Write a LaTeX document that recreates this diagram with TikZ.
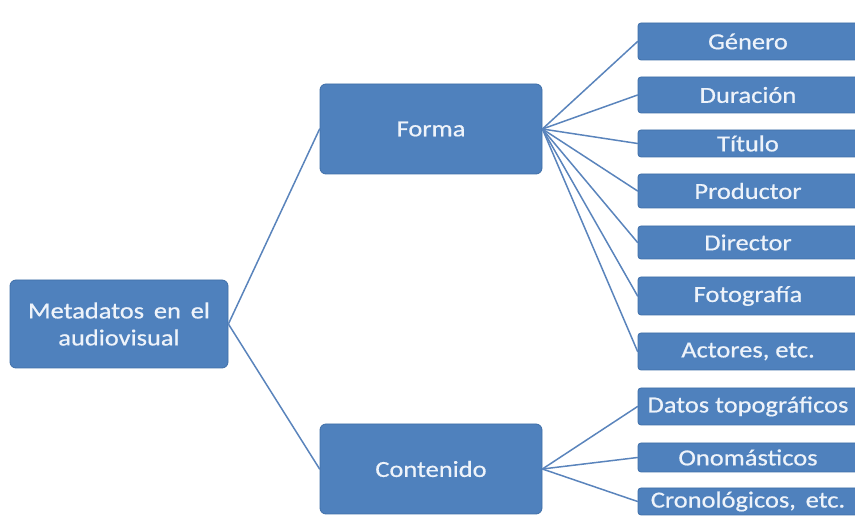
\documentclass[tikz,border=0pt]{standalone}
\usepackage{fontspec}
\setmainfont[FakeStretch=1.15,FakeBold=0.6]{Carlito}
\definecolor{boxblue}{HTML}{4F81BD}
\definecolor{edgeblue}{HTML}{3F6FA8}
\definecolor{lineblue}{HTML}{5A84BC}
\definecolor{textwhite}{HTML}{EEF3FA}
\tikzset{
	mainbox/.style={draw=edgeblue,line width=0.8pt,fill=boxblue,rounded corners=6pt,text=textwhite,align=center,font=\fontsize{23}{27}\selectfont},
	leafbox/.style={draw=edgeblue,line width=0.8pt,fill=boxblue,rounded corners=3pt,text=textwhite,minimum width=220pt,inner sep=0pt,font=\fontsize{23}{25}\selectfont},
	branch/.style={draw=lineblue,line width=1.5pt}
}
\begin{document}
\begin{tikzpicture}[x=1pt,y=-1pt,line cap=round,line join=round]
		\useasboundingbox (0,0) rectangle (855,526);
		\clip (0,0) rectangle (855,526);
		%%%%%%%%%%%%%%% R O O T %%%%%%%%%%%%%%%%
		\node[mainbox,minimum width=218pt,minimum height=88pt] (root) at (119,324) {Metadatos\, en\, el\\audiovisual};
		%%%%%%%%%%%%%%% L E V E L 1 %%%%%%%%%%%%%%%%
		\node[mainbox,minimum width=222pt,minimum height=90pt] (forma) at (431,129) {Forma};
		\node[mainbox,minimum width=222pt,minimum height=90pt] (contenido) at (431,469) {Contenido};
		%%%%%%%%%%%%%%% L E V E L 2 %%%%%%%%%%%%%%%%
		%forma
		\node[leafbox,minimum height=37pt] (genero) at (748,41.5) {Género};
		\node[leafbox,minimum height=36pt] (duracion) at (748,95) {Duración};
		\node[leafbox,minimum height=27pt] (titulo) at (748,143.5) {Título};
		\node[leafbox,minimum height=34pt] (productor) at (748,191) {Productor};
		\node[leafbox,minimum height=33pt] (director) at (748,242.5) {Director};
		\node[leafbox,minimum height=38pt] (fotografia) at (748,296) {Fotografía};
		\node[leafbox,minimum height=37pt] (actores) at (748,351.5) {Actores, etc.};
		%contenido
		\node[leafbox,minimum height=37pt] (topo) at (748,406.5) {Datos topográficos};
		\node[leafbox,minimum height=29pt] (onom) at (748,457.5) {Onomásticos};
		\node[leafbox,minimum height=27pt] (crono) at (748,501.5) {Cronológicos,\, etc.};
		%%%%%%%%%%%%%%% B R A N C H E S %%%%%%%%%%%%%%%%
		\draw[branch] (root.east) -- (forma.west);
		\draw[branch] (root.east) -- (contenido.west);
		\foreach \leaf in {genero,duracion,titulo,productor,director,fotografia,actores}
			\draw[branch] (forma.east) -- (\leaf.west);
		\foreach \leaf in {topo,onom,crono}
			\draw[branch] (contenido.east) -- (\leaf.west);
	\end{tikzpicture}
\end{document}
